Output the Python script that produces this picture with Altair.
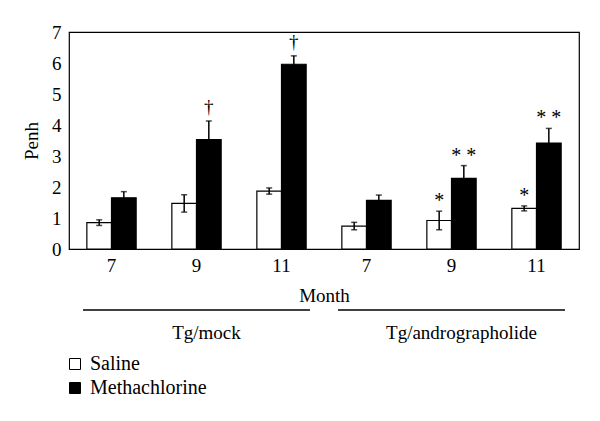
import altair as alt
import pandas as pd

groups = ["Tg/mock", "Tg/mock", "Tg/mock", "Tg/andrographolide", "Tg/andrographolide", "Tg/andrographolide"]
months = [7, 9, 11, 7, 9, 11]
series = ["Saline", "Methachlorine"]
saline_mean = [0.85, 1.47, 1.87, 0.74, 0.92, 1.31]
saline_err = [0.09, 0.28, 0.10, 0.12, 0.30, 0.08]
meth_mean = [1.65, 3.53, 5.96, 1.57, 2.28, 3.42]
meth_err = [0.20, 0.60, 0.27, 0.17, 0.41, 0.47]
saline_mark = ["", "", "", "", "*", "*"]
meth_mark = ["", "\u2020", "\u2020", "", "* *", "* *"]
group_names = ["Tg/mock", "Tg/andrographolide"]

rows = []
for i in range(6):
    key = f"{groups[i]}|{months[i]}"
    for s, m, e, a in [("Saline", saline_mean[i], saline_err[i], saline_mark[i]),
                       ("Methachlorine", meth_mean[i], meth_err[i], meth_mark[i])]:
        rows.append({"key": key, "series": s, "mean": m, "lo": m - e, "hi": m + e, "mark": a})
df = pd.DataFrame(rows)
keys = list(dict.fromkeys(df["key"]))
gdf = pd.DataFrame({"group": group_names})

FONT = "Liberation Serif"
FS = 19

xaxis = alt.Axis(title="Month", labelExpr="split(datum.label, '|')[1]",
                 labelAngle=0, domain=False, ticks=False,
                 labelPadding=7, titlePadding=11,
                 labelFontSize=FS, titleFontSize=FS, titleFontWeight="normal",
                 labelColor="black", titleColor="black")
xscale = alt.Scale(paddingInner=0.42, paddingOuter=0.21)
xenc = alt.X("key:N", sort=keys, scale=xscale, axis=xaxis)
xoff = alt.XOffset("series:N", sort=series, scale=alt.Scale(paddingInner=0, paddingOuter=0))
yscale = alt.Scale(domain=[0, 7], nice=False)
yaxis = alt.Axis(title="Penh", values=[0, 1, 2, 3, 4, 5, 6, 7], domain=False,
                 ticks=False, grid=False, labelPadding=8, titlePadding=10,
                 labelOverlap=False, labelFontSize=FS, titleFontSize=FS,
                 titleFontWeight="normal", labelColor="black", titleColor="black")

bars = alt.Chart(df).mark_bar(stroke="black", strokeWidth=1.2).encode(
    x=xenc,
    xOffset=xoff,
    y=alt.Y("mean:Q", scale=yscale, axis=yaxis),
    fill=alt.Fill("series:N", sort=series,
                  scale=alt.Scale(domain=series, range=["white", "black"]),
                  legend=alt.Legend(title=None, orient="none", legendX=-4, legendY=322,
                                    symbolType="square", symbolSize=121,
                                    symbolStrokeColor="black", symbolStrokeWidth=1,
                                    labelFontSize=20, labelColor="black", labelOffset=5,
                                    rowPadding=4, padding=0)),
)

rules = alt.Chart(df).mark_rule(color="black", strokeWidth=1.5).encode(
    x=xenc, xOffset=xoff,
    y=alt.Y("lo:Q", scale=yscale, axis=yaxis), y2="hi:Q",
)
caps_hi = alt.Chart(df).mark_tick(color="black", size=6, thickness=1.5).encode(
    x=xenc, xOffset=xoff, y=alt.Y("hi:Q", scale=yscale, axis=yaxis),
)
caps_lo = alt.Chart(df).mark_tick(color="black", size=6, thickness=1.5).encode(
    x=xenc, xOffset=xoff, y=alt.Y("lo:Q", scale=yscale, axis=yaxis),
)
stars = alt.Chart(df).transform_filter("indexof(datum.mark, '*') >= 0").mark_text(
    fontSize=20, baseline="middle", dy=-10, color="black").encode(
    x=xenc, xOffset=xoff, y=alt.Y("hi:Q", scale=yscale, axis=yaxis), text="mark:N",
)
daggers = alt.Chart(df).transform_filter("datum.mark == '\u2020'").mark_text(
    fontSize=19, baseline="middle", dy=-14, color="black").encode(
    x=xenc, xOffset=xoff, y=alt.Y("hi:Q", scale=yscale, axis=yaxis), text="mark:N",
)

main = alt.layer(bars, rules, caps_hi, caps_lo, stars, daggers)

gx = alt.X("group:N", sort=group_names, axis=None,
           scale=alt.Scale(paddingInner=0.11, paddingOuter=0.055))
glines = alt.Chart(gdf).mark_bar(color="black").encode(
    x=gx, y=alt.value(277.3), y2=alt.value(278.8),
)
glabels = alt.Chart(gdf).mark_text(fontSize=FS, baseline="middle", dx=10, color="black").encode(
    x=gx, y=alt.value(301), text="group:N",
)
grp = alt.layer(glines, glabels)

chart = alt.layer(main, grp).resolve_scale(x="independent").properties(
    width=510, height=217, autosize="none",
    padding={"left": 61, "top": 24, "right": 10, "bottom": 150},
).configure(font=FONT).configure_view(stroke="black", strokeWidth=1.2)

chart.save("out.html", embed_options={"renderer": "svg", "actions": False})
